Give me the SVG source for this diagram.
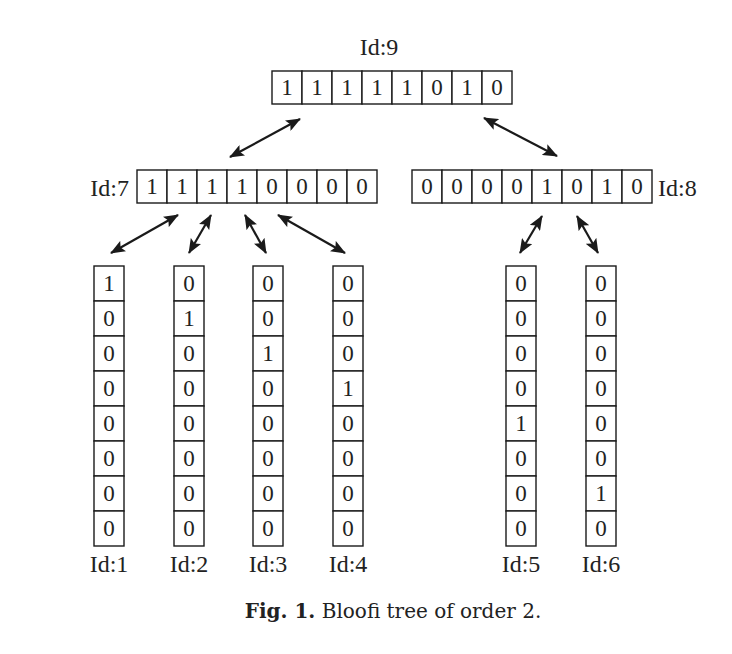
<svg xmlns="http://www.w3.org/2000/svg" width="732" height="654" viewBox="0 0 732 654">
<style>
.c{fill:#fff;stroke:#1a1a1a;stroke-width:1.4}
.d{font-family:"Liberation Serif","Times New Roman",serif;font-size:23px;fill:#222;text-anchor:middle}
.l{font-family:"Liberation Serif","Times New Roman",serif;font-size:24px;fill:#222}
.a{stroke:#1a1a1a;stroke-width:2.2;fill:none;marker-start:url(#h);marker-end:url(#h)}
.cap{font-family:"DejaVu Serif","Liberation Serif",serif;font-size:20px;fill:#222;text-anchor:middle}
</style>
<defs>
<marker id="h" markerUnits="userSpaceOnUse" markerWidth="16" markerHeight="12" refX="14" refY="6" orient="auto-start-reverse" viewBox="0 0 16 12">
<path d="M0,0 L15,6 L0,12 L3,6 z" fill="#1a1a1a"/>
</marker>
</defs>
<rect width="732" height="654" fill="#fff"/>

<g id="node9">
<text class="l" x="379" y="55" text-anchor="middle">Id:9</text>
<rect class="c" x="272" y="71" width="30" height="33"/><rect class="c" x="302" y="71" width="30" height="33"/><rect class="c" x="332" y="71" width="30" height="33"/><rect class="c" x="362" y="71" width="30" height="33"/><rect class="c" x="392" y="71" width="30" height="33"/><rect class="c" x="422" y="71" width="30" height="33"/><rect class="c" x="452" y="71" width="30" height="33"/><rect class="c" x="482" y="71" width="30" height="33"/>
<text class="d" x="287" y="95">1</text><text class="d" x="317" y="95">1</text><text class="d" x="347" y="95">1</text><text class="d" x="377" y="95">1</text><text class="d" x="407" y="95">1</text><text class="d" x="437" y="95">0</text><text class="d" x="467" y="95">1</text><text class="d" x="497" y="95">0</text>
</g>

<g id="node7">
<text class="l" x="129" y="196" text-anchor="end">Id:7</text>
<rect class="c" x="137" y="170" width="30" height="33"/><rect class="c" x="167" y="170" width="30" height="33"/><rect class="c" x="197" y="170" width="30" height="33"/><rect class="c" x="227" y="170" width="30" height="33"/><rect class="c" x="257" y="170" width="30" height="33"/><rect class="c" x="287" y="170" width="30" height="33"/><rect class="c" x="317" y="170" width="30" height="33"/><rect class="c" x="347" y="170" width="30" height="33"/>
<text class="d" x="152" y="194">1</text><text class="d" x="182" y="194">1</text><text class="d" x="212" y="194">1</text><text class="d" x="242" y="194">1</text><text class="d" x="272" y="194">0</text><text class="d" x="302" y="194">0</text><text class="d" x="332" y="194">0</text><text class="d" x="362" y="194">0</text>
</g>

<g id="node8">
<text class="l" x="658" y="196">Id:8</text>
<rect class="c" x="412" y="170" width="30" height="33"/><rect class="c" x="442" y="170" width="30" height="33"/><rect class="c" x="472" y="170" width="30" height="33"/><rect class="c" x="502" y="170" width="30" height="33"/><rect class="c" x="532" y="170" width="30" height="33"/><rect class="c" x="562" y="170" width="30" height="33"/><rect class="c" x="592" y="170" width="30" height="33"/><rect class="c" x="622" y="170" width="30" height="33"/>
<text class="d" x="427" y="194">0</text><text class="d" x="457" y="194">0</text><text class="d" x="487" y="194">0</text><text class="d" x="517" y="194">0</text><text class="d" x="547" y="194">1</text><text class="d" x="577" y="194">0</text><text class="d" x="607" y="194">1</text><text class="d" x="637" y="194">0</text>
</g>

<g id="node1">
<rect class="c" x="94" y="266" width="30" height="35"/><rect class="c" x="94" y="301" width="30" height="35"/><rect class="c" x="94" y="336" width="30" height="35"/><rect class="c" x="94" y="371" width="30" height="35"/><rect class="c" x="94" y="406" width="30" height="35"/><rect class="c" x="94" y="441" width="30" height="35"/><rect class="c" x="94" y="476" width="30" height="35"/><rect class="c" x="94" y="511" width="30" height="35"/>
<text class="d" x="109" y="291">1</text><text class="d" x="109" y="326">0</text><text class="d" x="109" y="361">0</text><text class="d" x="109" y="396">0</text><text class="d" x="109" y="431">0</text><text class="d" x="109" y="466">0</text><text class="d" x="109" y="501">0</text><text class="d" x="109" y="536">0</text>
<text class="l" x="109" y="572" text-anchor="middle">Id:1</text>
</g>

<g id="node2">
<rect class="c" x="174" y="266" width="30" height="35"/><rect class="c" x="174" y="301" width="30" height="35"/><rect class="c" x="174" y="336" width="30" height="35"/><rect class="c" x="174" y="371" width="30" height="35"/><rect class="c" x="174" y="406" width="30" height="35"/><rect class="c" x="174" y="441" width="30" height="35"/><rect class="c" x="174" y="476" width="30" height="35"/><rect class="c" x="174" y="511" width="30" height="35"/>
<text class="d" x="189" y="291">0</text><text class="d" x="189" y="326">1</text><text class="d" x="189" y="361">0</text><text class="d" x="189" y="396">0</text><text class="d" x="189" y="431">0</text><text class="d" x="189" y="466">0</text><text class="d" x="189" y="501">0</text><text class="d" x="189" y="536">0</text>
<text class="l" x="189" y="572" text-anchor="middle">Id:2</text>
</g>

<g id="node3">
<rect class="c" x="253" y="266" width="30" height="35"/><rect class="c" x="253" y="301" width="30" height="35"/><rect class="c" x="253" y="336" width="30" height="35"/><rect class="c" x="253" y="371" width="30" height="35"/><rect class="c" x="253" y="406" width="30" height="35"/><rect class="c" x="253" y="441" width="30" height="35"/><rect class="c" x="253" y="476" width="30" height="35"/><rect class="c" x="253" y="511" width="30" height="35"/>
<text class="d" x="268" y="291">0</text><text class="d" x="268" y="326">0</text><text class="d" x="268" y="361">1</text><text class="d" x="268" y="396">0</text><text class="d" x="268" y="431">0</text><text class="d" x="268" y="466">0</text><text class="d" x="268" y="501">0</text><text class="d" x="268" y="536">0</text>
<text class="l" x="268" y="572" text-anchor="middle">Id:3</text>
</g>

<g id="node4">
<rect class="c" x="333" y="266" width="30" height="35"/><rect class="c" x="333" y="301" width="30" height="35"/><rect class="c" x="333" y="336" width="30" height="35"/><rect class="c" x="333" y="371" width="30" height="35"/><rect class="c" x="333" y="406" width="30" height="35"/><rect class="c" x="333" y="441" width="30" height="35"/><rect class="c" x="333" y="476" width="30" height="35"/><rect class="c" x="333" y="511" width="30" height="35"/>
<text class="d" x="348" y="291">0</text><text class="d" x="348" y="326">0</text><text class="d" x="348" y="361">0</text><text class="d" x="348" y="396">1</text><text class="d" x="348" y="431">0</text><text class="d" x="348" y="466">0</text><text class="d" x="348" y="501">0</text><text class="d" x="348" y="536">0</text>
<text class="l" x="348" y="572" text-anchor="middle">Id:4</text>
</g>

<g id="node5">
<rect class="c" x="506" y="266" width="30" height="35"/><rect class="c" x="506" y="301" width="30" height="35"/><rect class="c" x="506" y="336" width="30" height="35"/><rect class="c" x="506" y="371" width="30" height="35"/><rect class="c" x="506" y="406" width="30" height="35"/><rect class="c" x="506" y="441" width="30" height="35"/><rect class="c" x="506" y="476" width="30" height="35"/><rect class="c" x="506" y="511" width="30" height="35"/>
<text class="d" x="521" y="291">0</text><text class="d" x="521" y="326">0</text><text class="d" x="521" y="361">0</text><text class="d" x="521" y="396">0</text><text class="d" x="521" y="431">1</text><text class="d" x="521" y="466">0</text><text class="d" x="521" y="501">0</text><text class="d" x="521" y="536">0</text>
<text class="l" x="521" y="572" text-anchor="middle">Id:5</text>
</g>

<g id="node6">
<rect class="c" x="586" y="266" width="30" height="35"/><rect class="c" x="586" y="301" width="30" height="35"/><rect class="c" x="586" y="336" width="30" height="35"/><rect class="c" x="586" y="371" width="30" height="35"/><rect class="c" x="586" y="406" width="30" height="35"/><rect class="c" x="586" y="441" width="30" height="35"/><rect class="c" x="586" y="476" width="30" height="35"/><rect class="c" x="586" y="511" width="30" height="35"/>
<text class="d" x="601" y="291">0</text><text class="d" x="601" y="326">0</text><text class="d" x="601" y="361">0</text><text class="d" x="601" y="396">0</text><text class="d" x="601" y="431">0</text><text class="d" x="601" y="466">0</text><text class="d" x="601" y="501">1</text><text class="d" x="601" y="536">0</text>
<text class="l" x="601" y="572" text-anchor="middle">Id:6</text>
</g>

<g id="connectors">
<line class="a" x1="300" y1="119" x2="230" y2="157"/>
<line class="a" x1="484" y1="118" x2="557" y2="156"/>
<line class="a" x1="178" y1="215" x2="111" y2="253"/>
<line class="a" x1="211" y1="215" x2="189" y2="253"/>
<line class="a" x1="245" y1="215" x2="266" y2="253"/>
<line class="a" x1="278" y1="215" x2="345" y2="253"/>
<line class="a" x1="542" y1="216" x2="520" y2="253"/>
<line class="a" x1="577" y1="216" x2="598" y2="253"/>
</g>

<text class="cap" x="393" y="618"><tspan font-weight="bold">Fig. 1.</tspan>  Bloofi tree of order 2.</text>
</svg>
